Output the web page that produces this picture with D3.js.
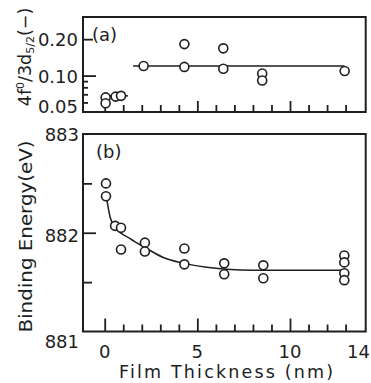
<!DOCTYPE html>
<html><head><meta charset="utf-8">
<script src="https://cdn.jsdelivr.net/npm/d3@7"></script>
<style>
html,body{margin:0;padding:0;background:#fff;}
svg{display:block;}
text{font-family:"DejaVu Sans",sans-serif;fill:#1e1e1e;}
</style></head>
<body>
<svg id="chart" width="371" height="383"></svg>
<script>
// ---- data ----
const ratioX = [0.05, 0.05, 0.59, 0.88, 2.1, 4.3, 4.3, 6.4, 6.4, 8.5, 8.5, 12.95];
const ratioY = [0.066, 0.059, 0.067, 0.068, 0.120, 0.182, 0.118, 0.168, 0.114, 0.104, 0.091, 0.109];
const ratioFitThinX = [0.0, 1.26];
const ratioFitThinY = [0.068, 0.068];
const ratioFitX = [1.53, 12.93];
const ratioFitY = [0.1198, 0.1198];

const energyX = [0.07, 0.07, 0.56, 0.88, 0.88, 2.17, 2.17, 4.3, 4.3, 6.45, 6.45, 8.56, 8.56, 12.93, 12.93, 12.93, 12.93];
const energyY = [882.50, 882.37, 882.07, 882.05, 881.83, 881.90, 881.81, 881.84, 881.68, 881.69, 881.58, 881.67, 881.54, 881.77, 881.70, 881.59, 881.52];
const curveX = [0.12, 0.29, 0.56, 1.37, 2.27, 3.16, 4.3, 5.5, 6.58, 8.0, 10.0, 12.93];
const curveY = [882.33, 882.16, 882.06, 881.94, 881.84, 881.75, 881.69, 881.65, 881.63, 881.62, 881.62, 881.62];

const xTickLabels = [0, 5, 10, 14];
const xMajorTicks = [0, 5, 10];
const xMinorTicks = [1, 2, 3, 4, 6, 7, 8, 9, 11, 12, 13];
const aTickLabels = ["0.20", "0.10", "0.05"];
const aTickValues = [0.20, 0.10, 0.05];
const aMinorTicks = [0.09, 0.08, 0.07, 0.06];
const bTickLabels = ["883", "882", "881"];
const bTickValues = [883, 882, 881];
const bMinorTicks = [882.5, 881.5];

// ---- layout ----
const svg = d3.select("#chart");
const L = 83, R = 365.7;
const A = {top: 17, bottom: 112};
const B = {top: 134, bottom: 331.5};
const ink = "#1e1e1e";

const x = d3.scaleLinear().domain([-1.171, 14.085]).range([L, R]);
const ya = d3.scaleLog().domain([0.05, 0.305]).range([A.bottom, A.top]);
const yb = d3.scaleLinear().domain([881, 883]).range([B.bottom, B.top]);

function frame(p) {
  svg.append("rect").attr("x", L).attr("y", p.top).attr("width", R - L).attr("height", p.bottom - p.top)
    .attr("fill", "none").attr("stroke", ink).attr("stroke-width", 2);
}
frame(A); frame(B);

function xTicks(p, majorLen, minorLen) {
  svg.append("g").attr("transform", `translate(0,${p.bottom})`)
    .call(d3.axisBottom(x).tickValues(xMajorTicks).tickSize(-majorLen).tickFormat(""))
    .call(g => g.select(".domain").remove())
    .call(g => g.selectAll("line").attr("stroke", ink).attr("stroke-width", 1.8));
  svg.append("g").attr("transform", `translate(0,${p.bottom})`)
    .call(d3.axisBottom(x).tickValues(xMinorTicks).tickSize(-minorLen).tickFormat(""))
    .call(g => g.select(".domain").remove())
    .call(g => g.selectAll("line").attr("stroke", ink).attr("stroke-width", 1.8));
}
xTicks(A, 11, 7);
xTicks(B, 13, 7);

function yTicks(scale, vals, len) {
  svg.append("g").attr("transform", `translate(${L},0)`)
    .call(d3.axisLeft(scale).tickValues(vals).tickSize(-len).tickFormat(""))
    .call(g => g.select(".domain").remove())
    .call(g => g.selectAll("line").attr("stroke", ink).attr("stroke-width", 1.8));
}
yTicks(ya, [0.20], 10);
yTicks(ya, [0.10], 13);
yTicks(ya, aMinorTicks, 5);
yTicks(yb, [882], 13);
yTicks(yb, bMinorTicks, 9);

// tick labels
const fs = 18;
const aOff = [7, 7, 1];
aTickLabels.forEach((t, i) => {
  svg.append("text").attr("x", 78).attr("y", ya(aTickValues[i]) + aOff[i])
    .attr("text-anchor", "end").attr("font-size", fs).text(t);
});
const bOff = [7, 9.5, 16.5];
bTickLabels.forEach((t, i) => {
  svg.append("text").attr("x", 79).attr("y", yb(bTickValues[i]) + bOff[i])
    .attr("text-anchor", "end").attr("font-size", fs).text(t);
});
xTickLabels.forEach(v => {
  const last = v === 14;
  svg.append("text").attr("x", last ? 370 : x(v)).attr("y", 357.5)
    .attr("text-anchor", last ? "end" : "middle").attr("font-size", fs).text(String(v));
});

// axis titles
svg.append("text").attr("x", 226).attr("y", 378).attr("text-anchor", "middle")
  .attr("font-size", 17.5).attr("textLength", 214).attr("lengthAdjust", "spacing")
  .text("Film Thickness (nm)");

svg.append("text").attr("transform", "translate(31.5,236.5) rotate(-90)")
  .attr("text-anchor", "middle").attr("font-size", 17.5)
  .attr("textLength", 192).attr("lengthAdjust", "spacingAndGlyphs")
  .text("Binding Energy(eV)");

const ta = svg.append("text").attr("transform", "translate(30.5,57) rotate(-90)")
  .attr("text-anchor", "middle").attr("font-size", 17.5);
ta.append("tspan").text("4f");
ta.append("tspan").attr("font-size", 11).attr("dy", -7).text("0");
ta.append("tspan").attr("dy", 7).text("/3d");
ta.append("tspan").attr("font-size", 11).attr("dy", 3).text("5/2");
ta.append("tspan").attr("dy", -3).text("(−)");

// panel labels
svg.append("text").attr("x", 92).attr("y", 41).attr("font-size", 18).text("(a)");
svg.append("text").attr("x", 96).attr("y", 158).attr("font-size", 18).text("(b)");

// fit lines
const lineA = d3.line().x(d => x(d[0])).y(d => ya(d[1]));
svg.append("path").datum(d3.zip(ratioFitThinX, ratioFitThinY)).attr("d", lineA)
  .attr("fill", "none").attr("stroke", ink).attr("stroke-width", 1.5);
svg.append("path").datum(d3.zip(ratioFitX, ratioFitY)).attr("d", lineA)
  .attr("fill", "none").attr("stroke", ink).attr("stroke-width", 1.5);
const lineB = d3.line().x(d => x(d[0])).y(d => yb(d[1])).curve(d3.curveMonotoneX);
svg.append("path").datum(d3.zip(curveX, curveY)).attr("d", lineB)
  .attr("fill", "none").attr("stroke", ink).attr("stroke-width", 1.5);

// points
const r = 4.5;
svg.append("g").selectAll("circle").data(d3.zip(ratioX, ratioY)).join("circle")
  .attr("cx", d => x(d[0])).attr("cy", d => ya(d[1])).attr("r", r)
  .attr("fill", "#fff").attr("stroke", ink).attr("stroke-width", 1.6);
svg.append("g").selectAll("circle").data(d3.zip(energyX, energyY)).join("circle")
  .attr("cx", d => x(d[0])).attr("cy", d => yb(d[1])).attr("r", r)
  .attr("fill", "#fff").attr("stroke", ink).attr("stroke-width", 1.6);
</script>
</body></html>
